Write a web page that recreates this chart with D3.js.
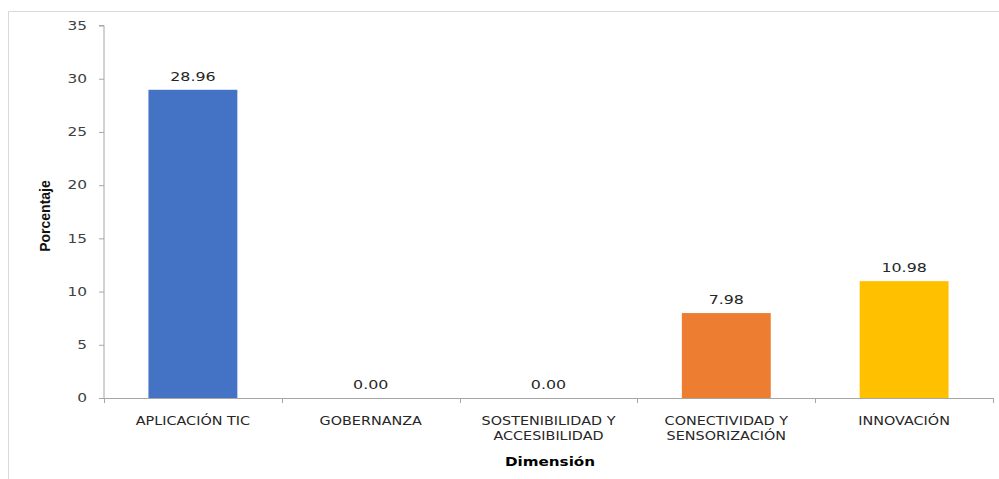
<!DOCTYPE html>
<html><head><meta charset="utf-8">
<script src="https://cdn.jsdelivr.net/npm/d3@7"></script>
<style>body{margin:0;background:#fff}svg{display:block}</style>
</head><body>
<svg id="c" width="999" height="479"></svg>
<script>
const categories = [["APLICACIÓN TIC"],["GOBERNANZA"],["SOSTENIBILIDAD Y","ACCESIBILIDAD"],["CONECTIVIDAD Y","SENSORIZACIÓN"],["INNOVACIÓN"]];
const values = [28.96, 0.00, 0.00, 7.98, 10.98];
const colors = ["#4472C4", "#4472C4", "#4472C4", "#ED7D31", "#FFC000"];
const yTicks = [0,5,10,15,20,25,30,35];

(function(){
const svg = d3.select("#c");
const pL = 104, pR = 993, pT = 25.5, pB = 398;
// frame
svg.append("line").attr("x1",8.5).attr("x2",999).attr("y1",11.5).attr("y2",11.5).attr("stroke","#d9d9d9");
svg.append("line").attr("x1",8.5).attr("x2",8.5).attr("y1",11.5).attr("y2",479).attr("stroke","#d9d9d9");

const x = d3.scaleBand().domain(d3.range(values.length)).range([pL,pR]).paddingInner(0.5).paddingOuter(0.25);
const y = d3.scaleLinear().domain([0,35]).range([pB,pT]);

const font = "'DejaVu Sans', sans-serif";
// y axis
const ya = svg.append("g").attr("transform",`translate(${pL},0)`)
  .call(d3.axisLeft(y).tickValues(yTicks).tickSize(5).tickPadding(10));
ya.select(".domain").attr("stroke","#a6a6a6").attr("d",`M-5,${pT}H0V${pB}`);
ya.selectAll(".tick line").attr("stroke","#a6a6a6");
ya.selectAll(".tick text").attr("x",0).attr("transform","translate(-17,0) scale(1.28,1)")
  .attr("font-family",font).attr("font-size",12).attr("fill","#404040");

// bars
svg.selectAll("rect.bar").data(values).join("rect").attr("class","bar")
  .attr("x",(d,i)=>x(i)).attr("width",x.bandwidth())
  .attr("y",d=>y(d)).attr("height",d=>y(0)-y(d))
  .attr("fill",(d,i)=>colors[i]);

// x axis
const step = (pR-pL)/values.length;
const xa = svg.append("g").attr("transform",`translate(0,${pB})`);
xa.append("line").attr("x1",pL).attr("x2",pR).attr("y1",0.5).attr("y2",0.5).attr("stroke","#a6a6a6");
d3.range(values.length+1).forEach(i=>{
  const xx = Math.round(pL+i*step)+0.5;
  xa.append("line").attr("x1",xx).attr("x2",xx).attr("y1",0).attr("y2",5).attr("stroke","#a6a6a6");
});
categories.forEach((lines,i)=>{
  const cx = x(i)+x.bandwidth()/2;
  const t = xa.append("text").attr("transform",`translate(${cx},27) scale(1.15,1)`)
    .attr("text-anchor","middle").attr("font-family",font).attr("font-size",12.5).attr("fill","#262626");
  lines.forEach((l,j)=>t.append("tspan").attr("x",0).attr("dy",j?15:0).text(l));
});

// value labels
svg.selectAll("text.val").data(values).join("text").attr("class","val")
  .attr("transform",(d,i)=>`translate(${x(i)+x.bandwidth()/2},${y(d)-9}) scale(1.22,1)`)
  .attr("text-anchor","middle").attr("font-family",font).attr("font-size",13).attr("fill","#262626")
  .text(d=>d.toFixed(2));

// axis titles
svg.append("text").attr("transform","translate(50,216) rotate(-90)").attr("text-anchor","middle")
  .attr("font-family","'Liberation Sans', sans-serif").attr("font-size",14).attr("font-weight","bold").attr("fill","#111")
  .text("Porcentaje");
svg.append("text").attr("transform","translate(550,466) scale(1.17,1)").attr("text-anchor","middle")
  .attr("font-family",font).attr("font-size",13).attr("font-weight","bold").attr("fill","#000")
  .text("Dimensión");
})();
</script>
</body></html>
